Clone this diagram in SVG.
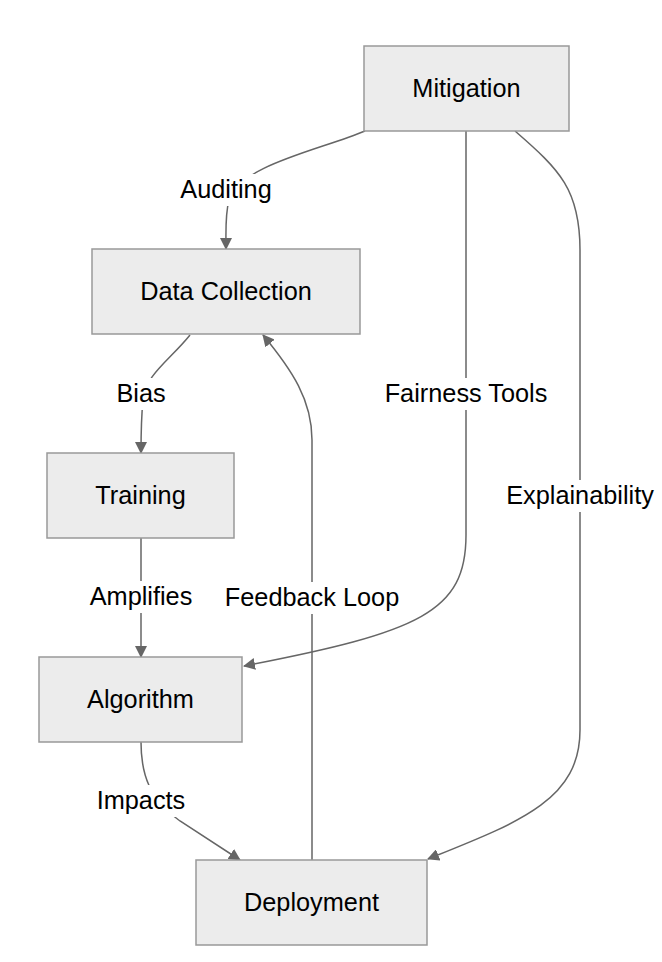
<svg xmlns="http://www.w3.org/2000/svg" width="662" height="962" viewBox="0 0 662 962">
<defs>
<marker id="arr" viewBox="0 0 12 12" refX="11" refY="6" markerWidth="12" markerHeight="12" markerUnits="userSpaceOnUse" orient="auto">
<path d="M0,0 L12,6 L0,12 z" fill="#666"/>
</marker>
<style>
.node rect{fill:#ececec;stroke:#999;stroke-width:1.5}
.node text,.lbl text{font-family:"Liberation Sans",Arial,sans-serif;font-size:25.3px;fill:#000;text-anchor:middle;dominant-baseline:central}
.edge{fill:none;stroke:#666;stroke-width:1.5;marker-end:url(#arr)}
.lbl rect{fill:#fff}
</style>
</defs>
<rect width="662" height="962" fill="#fff"/>
<g id="connectors">
<path class="edge" d="M 365 131 C 320 150, 240 165, 229 200 C 225 215, 226 230, 226 249"/>
<path class="edge" d="M 190 335 C 170 360, 145 375, 143 400 C 141 420, 141 435, 141 453"/>
<path class="edge" d="M 141 538 L 141 657"/>
<path class="edge" d="M 141 742 C 141 775, 150 800, 180 821 L 240 860"/>
<path class="edge" d="M 312 860 L 312 440 C 312 400, 292 370, 263 335"/>
<path class="edge" d="M 466 131 L 466 535 C 466 612, 420 632, 244 666"/>
<path class="edge" d="M 515 131 C 560 170, 580 190, 580 250 L 580 730 C 580 800, 520 822, 428 859"/>
<g class="lbl"><rect x="178" y="174" width="96" height="32"/><text x="226" y="189">Auditing</text></g>
<g class="lbl"><rect x="114" y="378" width="54" height="32"/><text x="141" y="393">Bias</text></g>
<g class="lbl"><rect x="86" y="581" width="110" height="32"/><text x="141" y="596">Amplifies</text></g>
<g class="lbl"><rect x="94" y="785" width="94" height="32"/><text x="141" y="800">Impacts</text></g>
<g class="lbl"><rect x="222" y="582" width="180" height="32"/><text x="312" y="597">Feedback Loop</text></g>
<g class="lbl"><rect x="382" y="378" width="168" height="32"/><text x="466" y="393">Fairness Tools</text></g>
<g class="lbl"><rect x="503" y="480" width="154" height="32"/><text x="580" y="495">Explainability</text></g>
</g>
<g id="mitigation" class="node"><rect x="364" y="46" width="205" height="85"/><text x="466.5" y="88">Mitigation</text></g>
<g id="data-collection" class="node"><rect x="92" y="249" width="268" height="85"/><text x="226" y="291">Data Collection</text></g>
<g id="training" class="node"><rect x="47" y="453" width="187" height="85"/><text x="140.5" y="495">Training</text></g>
<g id="algorithm" class="node"><rect x="39" y="657" width="203" height="85"/><text x="140.5" y="699">Algorithm</text></g>
<g id="deployment" class="node"><rect x="196" y="860" width="231" height="85"/><text x="311.5" y="902">Deployment</text></g>
</svg>
